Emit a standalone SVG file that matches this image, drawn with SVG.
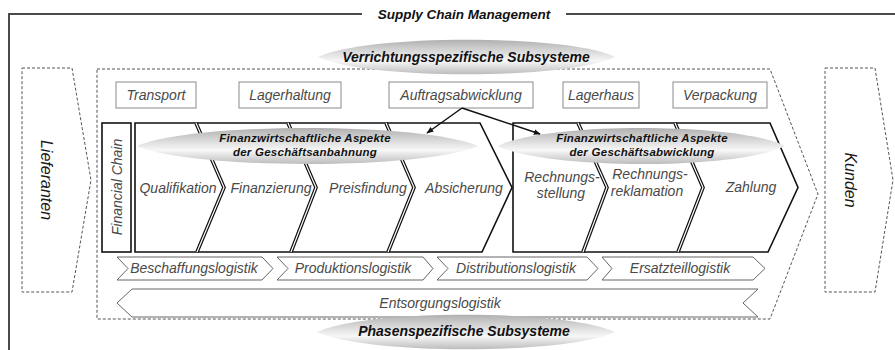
<svg xmlns="http://www.w3.org/2000/svg" width="895" height="350" viewBox="0 0 895 350">
<defs>
<linearGradient id="lens" x1="0" y1="0" x2="0" y2="1">
<stop offset="0" stop-color="#b0b0b0"/>
<stop offset="0.35" stop-color="#dadada"/>
<stop offset="0.62" stop-color="#f7f7f7"/>
<stop offset="1" stop-color="#bcbcbc"/>
</linearGradient>
<marker id="ah" viewBox="0 0 10 10" refX="9" refY="5" markerWidth="7" markerHeight="7" orient="auto" markerUnits="userSpaceOnUse">
<path d="M0,1 L10,5 L0,9 Z" fill="#111"/>
</marker>
</defs>
<style>
.dash{fill:none;stroke:#555;stroke-width:1;stroke-dasharray:3 2}
.box{fill:#fff;stroke:#8a8a8a;stroke-width:1}
.t{font-family:"Liberation Sans",Arial,sans-serif;font-style:italic;font-size:14px;fill:#4a4a4a}
.b{font-family:"Liberation Sans",Arial,sans-serif;font-style:italic;font-weight:bold;font-size:14px;fill:#111}
.bt{font-size:13.5px}
.s{font-family:"Liberation Sans",Arial,sans-serif;font-style:italic;font-weight:bold;font-size:11.5px;letter-spacing:0.25px;fill:#111}
.side{font-family:"Liberation Sans",Arial,sans-serif;font-style:italic;font-size:16px;fill:#1a1a1a}
.chev{fill:#fff;stroke:#111;stroke-width:1.6;stroke-linejoin:miter}
.dO{fill:none;stroke:#111;stroke-width:3.6}
.dI{fill:none;stroke:#fff;stroke-width:1.2}
.log{fill:#fff;stroke:#666;stroke-width:1}
.lens{fill:url(#lens);stroke:none}
.conn{fill:none;stroke:#111;stroke-width:1.5}
</style>
<rect width="895" height="350" fill="#fff"/>

<g id="frame">
<path d="M9,350 V14 H362 M566,14 H895" fill="none" stroke="#4a4a4a" stroke-width="2"/>
<text class="b bt" x="464" y="19" text-anchor="middle">Supply Chain Management</text>
</g>

<g id="lieferanten">
<path class="dash" d="M22,68 H72 L91,180 L72,292 H22 Z"/>
<text class="side" text-anchor="middle" transform="translate(41,180) rotate(90)">Lieferanten</text>
</g>

<g id="kunden">
<path class="dash" d="M825,68 H875 L893,180 L875,292 H825 Z"/>
<text class="side" text-anchor="middle" transform="translate(845,180) rotate(90)">Kunden</text>
</g>

<g id="subsystem-area">
<path class="dash" d="M97,69 H770 L818,194 L770,319 H97 Z"/>
</g>

<g id="verrichtung-label">
<path class="lens" d="M318,57 C365,34 568,34 615,57 C568,80 365,80 318,57 Z"/>
<text class="b" x="466" y="62" text-anchor="middle">Verrichtungsspezifische Subsysteme</text>
</g>

<g id="transport"><rect class="box" x="116" y="82" width="80" height="26"/><text class="t" x="156" y="100" text-anchor="middle">Transport</text></g>
<g id="lagerhaltung"><rect class="box" x="239" y="82" width="102" height="26"/><text class="t" x="290" y="100" text-anchor="middle">Lagerhaltung</text></g>
<g id="auftragsabwicklung"><rect class="box" x="389" y="82" width="144" height="26"/><text class="t" x="461" y="100" text-anchor="middle">Auftragsabwicklung</text></g>
<g id="lagerhaus"><rect class="box" x="563" y="82" width="76" height="26"/><text class="t" x="601" y="100" text-anchor="middle">Lagerhaus</text></g>
<g id="verpackung"><rect class="box" x="673" y="82" width="94" height="26"/><text class="t" x="720" y="100" text-anchor="middle">Verpackung</text></g>

<g id="financial-chain">
<rect class="chev" x="102" y="123" width="29" height="129"/>
<text class="t" text-anchor="middle" transform="translate(122,187) rotate(-90)">Financial Chain</text>
</g>

<g id="geschaeftsanbahnung">
<path class="chev" d="M135,123 H480 L512,187.5 L482,252 H135 Z"/>
<path class="dO" d="M196,123 L224,187.5 L197,252 M288,123 L316,187.5 L291,252 M386,123 L414,187.5 L388,252"/>
<path class="dI" d="M196,123 L224,187.5 L197,252 M288,123 L316,187.5 L291,252 M386,123 L414,187.5 L388,252"/>
<text class="t" x="178" y="193" text-anchor="middle">Qualifikation</text>
<text class="t" x="271" y="193" text-anchor="middle">Finanzierung</text>
<text class="t" x="368" y="193" text-anchor="middle">Preisfindung</text>
<text class="t" x="464" y="193" text-anchor="middle">Absicherung</text>
</g>

<g id="geschaeftsabwicklung">
<path class="chev" d="M513,123 H770 L798,187.5 L768,252 H513 Z"/>
<path class="dO" d="M578,123 L607,187.5 L583,252 M675,123 L703,187.5 L678,252"/>
<path class="dI" d="M578,123 L607,187.5 L583,252 M675,123 L703,187.5 L678,252"/>
<text class="t" x="562" y="182" text-anchor="middle">Rechnungs-</text>
<text class="t" x="561" y="198" text-anchor="middle">stellung</text>
<text class="t" x="650" y="179" text-anchor="middle">Rechnungs-</text>
<text class="t" x="647" y="196" text-anchor="middle">reklamation</text>
<text class="t" x="751" y="192" text-anchor="middle">Zahlung</text>
</g>

<g id="label-anbahnung">
<path class="lens" d="M137,146 C192,122 423,122 478,146 C423,170 192,170 137,146 Z"/>
<text class="s" x="305" y="142" text-anchor="middle">Finanzwirtschaftliche Aspekte</text>
<text class="s" x="305" y="156" text-anchor="middle">der Geschäftsanbahnung</text>
</g>

<g id="label-abwicklung">
<path class="lens" d="M498,146 C545,122 738,122 785,146 C738,170 545,170 498,146 Z"/>
<text class="s" x="642" y="142" text-anchor="middle">Finanzwirtschaftliche Aspekte</text>
<text class="s" x="642" y="156" text-anchor="middle">der Geschäftsabwicklung</text>
</g>

<g id="beschaffungslogistik"><path class="log" d="M117,257 H262 L273,268.5 L262,280 H117 L128,268.5 Z"/><text class="t" x="194" y="273" text-anchor="middle">Beschaffungslogistik</text></g>
<g id="produktionslogistik"><path class="log" d="M277,257 H423 L433,268.5 L423,280 H277 L288,268.5 Z"/><text class="t" x="353" y="273" text-anchor="middle">Produktionslogistik</text></g>
<g id="distributionslogistik"><path class="log" d="M437,257 H587 L598,268.5 L587,280 H437 L448,268.5 Z"/><text class="t" x="516" y="273" text-anchor="middle">Distributionslogistik</text></g>
<g id="ersatzteillogistik"><path class="log" d="M602,257 H753 L765,268.5 L753,280 H602 L612,268.5 Z"/><text class="t" x="680" y="273" text-anchor="middle">Ersatzteillogistik</text></g>
<g id="entsorgungslogistik"><path class="log" d="M117,303 L132,289 H758 L743,303 L758,317 H132 Z"/><text class="t" x="440" y="308" text-anchor="middle">Entsorgungslogistik</text></g>

<g id="phasen-label">
<path class="lens" d="M317,332 C365,309 567,309 615,332 C567,355 365,355 317,332 Z"/>
<text class="b" x="464" y="336" text-anchor="middle">Phasenspezifische Subsysteme</text>
</g>

<g id="connectors">
<path class="conn" d="M462,108 L427,133" marker-end="url(#ah)"/>
<path class="conn" d="M462,108 L540,134" marker-end="url(#ah)"/>
</g>
</svg>
